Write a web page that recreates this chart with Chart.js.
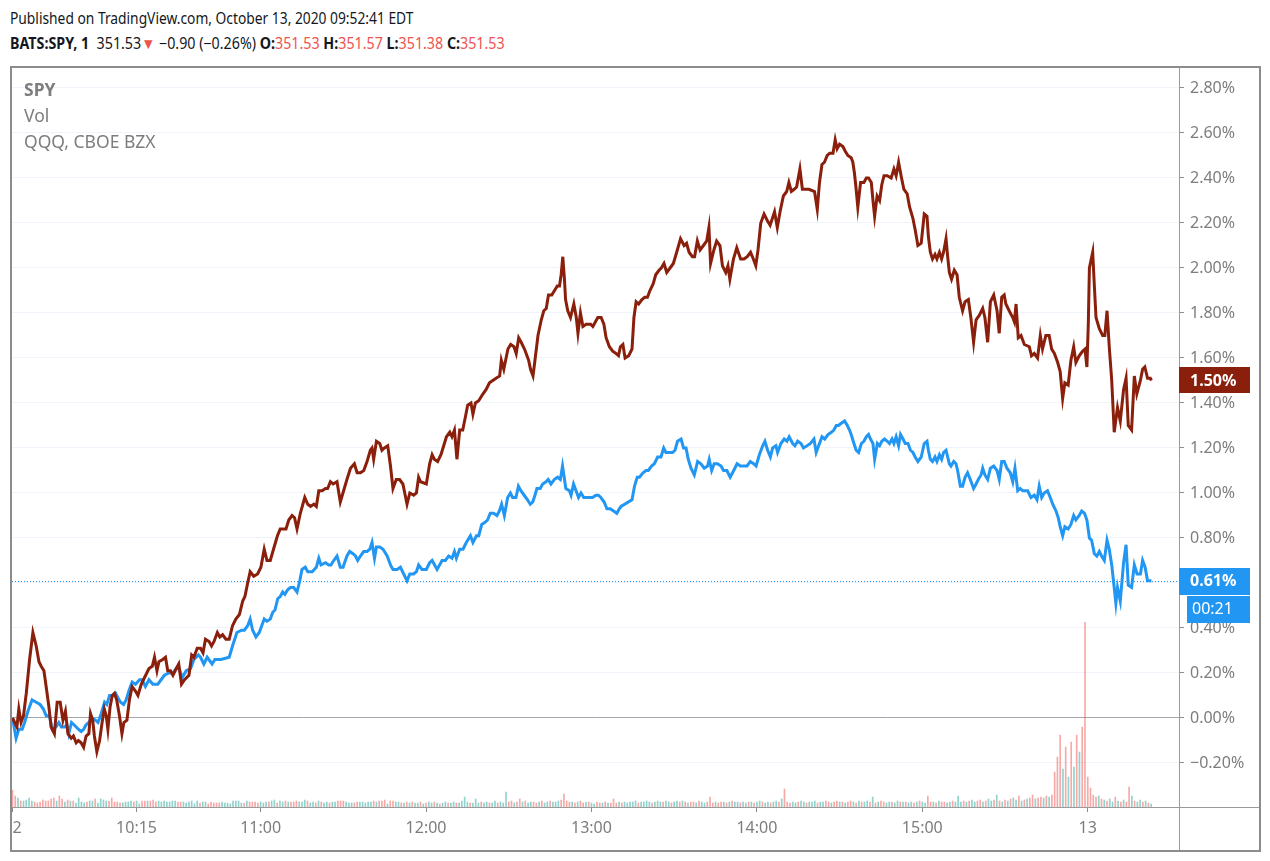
<!DOCTYPE html>
<html>
<head>
<meta charset="utf-8">
<script src="https://cdn.jsdelivr.net/npm/chart.js@4.4.1/dist/chart.umd.min.js"></script>
<style>
  html, body { margin: 0; padding: 0; background: #fff; }
  body { width: 1270px; height: 861px; position: relative; overflow: hidden; font-family: "Noto Sans", "Open Sans", sans-serif; }
  #chartCanvas { position: absolute; left: 0; top: 0; }
  .hdr { position: absolute; left: 10px; white-space: nowrap; color: #131722; font-size: 15.5px; transform-origin: 0 0; }
  #hdr1 { top: 7px; transform: scaleX(0.89); }
  #hdr2 { top: 32px; transform: scaleX(0.92); }
  .b { font-weight: bold; }
  .red { color: #ef5350; }
  .leg { position: absolute; left: 24px; color: #7d7d7d; font-size: 17.5px; white-space: nowrap; }
</style>
</head>
<body>
<div class="hdr" id="hdr1">Published on TradingView.com, October 13, 2020 09:52:41 EDT</div>
<div class="hdr" id="hdr2"><span class="b">BATS:SPY, 1</span>&nbsp; 351.53<span class="red">▼</span> −0.90 (−0.26%) <span class="b">O:</span><span class="red">351.53</span> <span class="b">H:</span><span class="red">351.57</span> <span class="b">L:</span><span class="red">351.38</span> <span class="b">C:</span><span class="red">351.53</span></div>
<canvas id="chartCanvas" width="1270" height="861"></canvas>
<div class="leg b" style="top:77px">SPY</div>
<div class="leg" style="top:103px">Vol</div>
<div class="leg" style="top:129px">QQQ, CBOE BZX</div>
<script>
  // === Data (x = minute bar since 9:30 Oct 12, y = % change) ===
  const spyPoints = [
    [0,0.00],[1.6,-0.04],[2.3,0.04],[3.1,-0.02],[4.0,0.01],[5.0,0.11],[6.2,0.26],[7.4,0.38],[8.6,0.32],[9.6,0.25],
    [10.4,0.23],[11.4,0.21],[12.2,0.14],[13.2,0.05],[14.0,-0.04],[15.2,-0.07],[16.2,0.07],[17.3,0.07],[18.3,-0.01],[19.2,0.03],
    [20.1,-0.07],[21.3,-0.09],[22.1,-0.08],[23.1,-0.11],[23.9,-0.10],[24.9,-0.11],[25.8,-0.13],[26.7,-0.08],[27.7,-0.07],[28.3,0.02],
    [29.1,-0.01],[29.7,-0.08],[30.6,-0.15],[31.6,-0.10],[32.5,-0.02],[33.3,0.04],[34.0,0.01],[34.6,-0.05],[35.4,0.05],[36.2,0.10],
    [37.0,0.11],[37.8,0.08],[38.8,0.01],[39.7,-0.07],[40.4,-0.02],[41.5,-0.01],[42.4,0.08],[43.4,0.14],[44.6,0.12],[45.5,0.10],
    [46.7,0.15],[47.9,0.18],[49.5,0.22],[50.7,0.23],[51.5,0.27],[52.4,0.21],[53.1,0.25],[54.5,0.26],[55.5,0.27],[56.3,0.21],
    [57.3,0.21],[58.2,0.19],[59.4,0.22],[60.3,0.24],[61.3,0.15],[62.4,0.17],[64.0,0.19],[65.0,0.28],[65.8,0.27],[67.0,0.31],
    [68.2,0.31],[69.1,0.29],[70.0,0.35],[71.3,0.34],[72.2,0.32],[73.1,0.34],[74.3,0.38],[75.2,0.36],[76.2,0.37],[77.4,0.35],
    [78.6,0.35],[79.8,0.41],[81.0,0.44],[82.3,0.46],[83.5,0.52],[84.3,0.54],[85.3,0.60],[86.2,0.65],[87.5,0.63],[88.9,0.64],
    [90.1,0.67],[91.3,0.75],[92.3,0.70],[93.5,0.70],[94.9,0.76],[96.1,0.81],[97.1,0.84],[98.3,0.84],[99.2,0.84],[100.2,0.88],
    [101.4,0.90],[102.3,0.89],[103.2,0.84],[104.4,0.91],[106.0,0.98],[107.1,0.95],[108.1,0.94],[109.3,0.95],[110.2,0.94],[111.1,1.01],
    [112.3,1.01],[113.5,1.02],[114.3,1.02],[115.3,1.05],[116.3,1.04],[117.7,1.05],[118.9,0.96],[120.1,1.01],[121.3,1.06],[122.6,1.11],
    [124.0,1.13],[125.0,1.09],[126.2,1.09],[127.4,1.10],[128.6,1.14],[129.8,1.19],[130.4,1.20],[131.0,1.15],[132.0,1.23],[133.2,1.22],
    [134.0,1.19],[134.9,1.20],[136.1,1.21],[137.1,1.12],[138.0,1.02],[139.2,1.06],[140.4,1.06],[141.6,1.04],[143.1,0.95],[144.1,1.00],
    [145.5,0.99],[146.5,1.00],[147.3,1.07],[148.0,1.05],[150.1,1.04],[151.3,1.13],[152.2,1.17],[153.0,1.15],[154.2,1.14],[155.4,1.17],
    [156.4,1.21],[157.4,1.25],[158.6,1.27],[159.4,1.25],[160.3,1.28],[161.2,1.15],[162.2,1.28],[163.3,1.28],[164.3,1.34],[165.1,1.39],
    [166.3,1.40],[167.0,1.35],[167.9,1.40],[169.1,1.41],[170.6,1.44],[171.8,1.46],[173.0,1.49],[174.2,1.50],[175.4,1.51],[176.7,1.52],
    [177.3,1.59],[178.2,1.55],[179.7,1.64],[180.7,1.66],[181.9,1.65],[182.7,1.62],[183.6,1.69],[184.5,1.67],[185.7,1.64],[187.2,1.59],
    [187.9,1.55],[188.8,1.52],[189.6,1.60],[190.6,1.70],[191.8,1.77],[192.7,1.81],[193.6,1.82],[194.4,1.88],[195.6,1.88],[196.6,1.90],
    [197.6,1.92],[198.4,1.92],[199.0,1.97],[199.6,2.05],[200.2,1.95],[200.6,1.86],[201.4,1.81],[202.4,1.78],[203.6,1.84],[204.5,1.78],
    [205.1,1.71],[206.0,1.80],[206.9,1.74],[208.1,1.75],[209.7,1.75],[210.5,1.74],[211.4,1.76],[212.3,1.78],[213.5,1.78],[214.5,1.75],
    [215.3,1.69],[216.5,1.65],[217.7,1.63],[218.9,1.62],[219.8,1.61],[220.5,1.65],[221.4,1.66],[222.2,1.60],[223.5,1.61],[224.7,1.64],
    [225.4,1.78],[226.2,1.85],[227.1,1.84],[228.3,1.86],[229.3,1.87],[230.3,1.87],[231.2,1.90],[232.4,1.93],[233.3,1.97],[234.5,1.99],
    [235.3,2.00],[236.3,2.02],[237.3,1.98],[238.5,2.00],[239.7,2.02],[240.9,2.07],[242.3,2.13],[243.6,2.10],[244.5,2.11],[245.4,2.07],
    [246.6,2.05],[247.4,2.05],[248.4,2.12],[249.4,2.08],[250.6,2.10],[251.8,2.12],[252.6,2.18],[253.2,2.02],[254.4,2.08],[255.4,2.12],
    [256.6,2.10],[257.5,2.01],[258.7,1.98],[259.5,2.01],[260.2,1.95],[261.5,2.04],[262.7,2.09],[264.1,2.04],[265.3,2.04],[266.5,2.05],
    [267.7,2.07],[268.7,2.04],[269.6,2.01],[270.4,2.08],[271.4,2.20],[272.6,2.24],[273.8,2.21],[274.8,2.19],[275.6,2.22],[276.4,2.25],
    [277.4,2.18],[278.4,2.25],[279.6,2.32],[280.8,2.34],[281.6,2.38],[282.5,2.34],[283.5,2.35],[284.4,2.36],[285.6,2.44],[286.5,2.35],
    [287.7,2.35],[288.9,2.35],[290.9,2.34],[291.9,2.26],[292.7,2.38],[293.6,2.46],[294.5,2.47],[295.5,2.50],[296.4,2.51],[297.6,2.51],
    [298.4,2.57],[299.1,2.53],[300.0,2.55],[301.2,2.54],[302.0,2.52],[303.0,2.50],[304.2,2.49],[304.8,2.47],[305.4,2.42],[306.0,2.35],
    [306.6,2.27],[307.6,2.38],[308.8,2.38],[309.7,2.40],[310.5,2.40],[311.5,2.38],[312.1,2.30],[312.7,2.23],[313.6,2.32],[314.5,2.30],
    [315.3,2.37],[316.1,2.41],[317.3,2.41],[318.7,2.40],[319.7,2.44],[320.5,2.41],[321.4,2.47],[322.3,2.41],[323.3,2.35],[324.5,2.33],
    [325.4,2.27],[326.6,2.22],[327.4,2.17],[328.4,2.10],[329.6,2.11],[330.7,2.24],[331.7,2.23],[332.2,2.14],[332.9,2.07],[333.7,2.04],
    [334.6,2.06],[335.3,2.04],[336.2,2.07],[337.0,2.04],[337.7,2.07],[338.6,2.13],[339.2,2.05],[339.8,1.98],[340.6,1.95],[341.6,1.99],
    [342.6,1.97],[343.4,1.87],[344.6,1.81],[345.5,1.85],[346.7,1.86],[347.6,1.78],[348.6,1.67],[349.5,1.77],[350.7,1.79],[351.9,1.82],
    [352.7,1.78],[353.7,1.67],[354.7,1.85],[355.9,1.88],[357.1,1.81],[357.9,1.71],[358.8,1.87],[359.7,1.88],[360.3,1.84],[361.5,1.81],
    [362.8,1.78],[363.4,1.76],[364.0,1.84],[364.8,1.69],[365.8,1.70],[367.0,1.66],[368.8,1.65],[369.6,1.61],[370.6,1.62],[371.8,1.60],
    [372.8,1.70],[373.6,1.64],[374.8,1.70],[376.0,1.70],[376.9,1.64],[377.9,1.62],[379.1,1.58],[380.0,1.54],[380.9,1.42],[381.7,1.49],
    [382.9,1.48],[383.9,1.59],[384.9,1.65],[385.7,1.58],[386.9,1.61],[388.1,1.63],[389.0,1.64],[389.7,1.56],[390.2,1.75],[390.6,2.00],
    [391.8,2.07],[392.4,1.92],[393.0,1.78],[394.2,1.73],[395.4,1.70],[396.2,1.70],[397.0,1.81],[397.8,1.65],[398.7,1.50],[399.6,1.27],
    [400.8,1.38],[401.8,1.32],[403.0,1.46],[403.9,1.51],[404.7,1.30],[405.9,1.28],[406.9,1.52],[407.8,1.44],[409.1,1.50],[409.9,1.55],
    [410.7,1.56],[411.7,1.51],[412.7,1.51],[413.1,1.50]
  ];

  const qqqPoints = [
    [0,0.00],[1.3,-0.09],[2.3,-0.05],[3.5,-0.05],[4.4,-0.02],[5.6,0.03],[7.1,0.08],[8.6,0.07],[10.0,0.06],[11.2,0.04],
    [12.2,0.01],[13.4,0.01],[14.4,-0.05],[15.8,-0.04],[16.8,-0.02],[17.7,-0.04],[18.9,-0.04],[19.7,-0.03],[20.4,-0.07],[21.4,-0.02],
    [22.3,-0.03],[23.1,-0.04],[23.9,-0.05],[24.9,-0.06],[25.8,-0.05],[26.7,-0.03],[27.7,-0.02],[28.9,0.00],[30.1,-0.01],[31.0,-0.02],
    [32.2,0.02],[33.4,0.07],[34.2,0.06],[35.2,0.10],[36.4,0.10],[37.4,0.11],[38.2,0.09],[39.2,0.07],[40.3,0.06],[41.2,0.08],
    [42.2,0.12],[43.4,0.16],[44.6,0.15],[46.1,0.17],[47.0,0.17],[48.2,0.14],[49.5,0.17],[50.9,0.15],[52.7,0.15],[53.9,0.17],
    [55.1,0.19],[56.7,0.20],[58.2,0.20],[59.4,0.22],[60.4,0.22],[61.6,0.18],[63.0,0.21],[64.6,0.22],[65.8,0.26],[67.4,0.28],
    [68.2,0.27],[69.4,0.24],[70.6,0.27],[72.4,0.24],[73.4,0.26],[75.6,0.26],[78.6,0.27],[79.8,0.32],[81.4,0.38],[83.1,0.39],
    [84.1,0.39],[85.3,0.41],[86.2,0.44],[87.1,0.39],[88.3,0.36],[89.5,0.38],[90.4,0.41],[91.3,0.44],[92.3,0.43],[93.5,0.44],
    [94.4,0.47],[95.2,0.48],[96.2,0.53],[97.1,0.54],[98.0,0.56],[98.8,0.55],[99.8,0.57],[100.8,0.58],[102.0,0.58],[103.2,0.56],
    [104.2,0.61],[105.0,0.66],[106.2,0.67],[107.1,0.65],[108.7,0.65],[110.2,0.67],[111.1,0.71],[111.9,0.68],[113.5,0.69],[114.7,0.68],
    [115.5,0.68],[116.5,0.70],[117.7,0.72],[118.9,0.67],[119.9,0.67],[121.3,0.72],[122.3,0.74],[123.5,0.73],[124.4,0.72],[125.2,0.70],
    [126.2,0.72],[127.4,0.74],[128.6,0.74],[129.6,0.75],[130.4,0.78],[131.3,0.71],[132.0,0.76],[133.2,0.76],[134.4,0.75],[135.9,0.72],
    [137.1,0.68],[138.0,0.66],[139.5,0.66],[140.7,0.67],[141.9,0.64],[143.1,0.61],[144.1,0.64],[145.5,0.64],[146.5,0.65],[147.3,0.68],
    [148.5,0.66],[150.1,0.66],[151.3,0.69],[152.2,0.70],[154.0,0.66],[155.8,0.70],[157.0,0.70],[158.2,0.72],[159.4,0.71],[160.3,0.74],
    [161.0,0.71],[162.2,0.75],[163.4,0.75],[164.6,0.78],[166.1,0.81],[167.0,0.78],[168.3,0.81],[169.1,0.81],[170.2,0.86],[171.4,0.87],
    [172.3,0.88],[173.3,0.91],[174.5,0.91],[175.7,0.90],[176.6,0.92],[177.4,0.95],[178.4,0.90],[179.6,0.98],[180.6,1.00],[181.4,0.98],
    [182.6,0.98],[183.5,1.03],[184.4,1.01],[185.6,0.99],[186.8,0.97],[187.8,0.95],[188.7,0.96],[189.5,0.99],[190.2,1.02],[191.4,1.02],
    [192.3,1.04],[193.5,1.05],[194.3,1.06],[195.3,1.04],[196.5,1.06],[197.7,1.07],[198.7,1.06],[199.5,1.12],[200.1,1.07],[200.7,1.02],
    [202.0,1.01],[202.6,0.99],[203.5,1.04],[204.4,1.01],[205.3,0.98],[206.2,1.00],[207.2,0.98],[208.6,0.98],[210.4,0.98],[211.6,0.99],
    [212.5,0.99],[213.4,0.98],[214.6,0.96],[215.6,0.93],[216.8,0.93],[218.0,0.92],[219.2,0.91],[220.1,0.93],[220.7,0.94],[224.7,0.97],
    [225.6,1.03],[226.6,1.07],[227.4,1.07],[228.7,1.09],[229.8,1.10],[230.6,1.10],[231.8,1.12],[232.8,1.13],[234.0,1.16],[235.2,1.16],
    [236.2,1.20],[237.0,1.18],[238.2,1.18],[239.4,1.18],[240.3,1.19],[241.2,1.23],[242.5,1.24],[243.4,1.20],[244.3,1.20],[245.1,1.15],
    [246.1,1.11],[247.3,1.08],[248.5,1.14],[249.7,1.13],[250.9,1.11],[252.1,1.12],[252.7,1.15],[253.6,1.10],[254.5,1.13],[255.7,1.13],
    [257.0,1.12],[257.9,1.10],[259.1,1.10],[260.3,1.07],[261.6,1.10],[262.8,1.13],[264.0,1.12],[265.2,1.12],[266.4,1.12],[267.6,1.14],
    [268.8,1.13],[269.7,1.12],[270.9,1.17],[272.1,1.21],[272.9,1.23],[273.9,1.19],[274.9,1.16],[275.7,1.20],[276.9,1.21],[277.5,1.18],
    [278.7,1.22],[279.9,1.24],[280.9,1.23],[281.7,1.25],[283.0,1.22],[283.8,1.21],[284.8,1.23],[286.0,1.22],[286.9,1.20],[288.2,1.21],
    [289.4,1.22],[290.7,1.24],[291.5,1.18],[292.4,1.21],[293.6,1.25],[294.6,1.24],[295.8,1.26],[297.0,1.27],[297.9,1.28],[298.8,1.30],
    [299.6,1.30],[300.6,1.31],[301.8,1.32],[302.8,1.30],[303.6,1.28],[304.2,1.26],[305.2,1.22],[306.0,1.19],[306.9,1.18],[307.9,1.22],
    [308.8,1.23],[309.7,1.25],[310.5,1.26],[311.2,1.24],[312.1,1.22],[312.7,1.15],[313.7,1.22],[314.5,1.21],[315.3,1.23],[316.3,1.24],
    [317.3,1.23],[318.1,1.22],[319.0,1.24],[319.7,1.22],[320.5,1.25],[321.4,1.21],[322.1,1.26],[323.0,1.24],[323.8,1.22],[324.8,1.22],
    [325.7,1.19],[326.6,1.18],[327.4,1.16],[328.4,1.14],[329.6,1.16],[330.7,1.22],[331.7,1.23],[332.2,1.19],[332.9,1.15],[333.7,1.14],
    [334.6,1.16],[335.3,1.14],[336.2,1.17],[337.0,1.15],[337.7,1.18],[338.6,1.19],[339.2,1.16],[339.8,1.13],[340.4,1.12],[341.4,1.14],
    [342.2,1.13],[342.8,1.10],[343.8,1.03],[344.6,1.03],[345.5,1.07],[346.4,1.09],[347.4,1.06],[348.6,1.02],[349.5,1.04],[350.3,1.06],
    [351.3,1.08],[351.9,1.11],[352.7,1.08],[353.7,1.06],[354.7,1.11],[355.9,1.12],[357.1,1.10],[357.9,1.06],[358.8,1.14],[359.7,1.14],
    [360.7,1.11],[361.9,1.09],[362.8,1.05],[363.6,1.11],[364.6,1.01],[365.5,1.02],[366.4,1.01],[368.2,1.01],[369.4,0.98],[370.6,0.99],
    [371.6,0.97],[372.4,1.03],[373.3,0.98],[374.2,1.00],[375.4,1.01],[376.4,0.98],[377.3,0.95],[378.5,0.92],[379.3,0.89],[380.0,0.85],
    [380.9,0.81],[381.7,0.85],[382.9,0.84],[383.9,0.86],[384.9,0.90],[385.7,0.88],[386.9,0.90],[387.8,0.92],[388.8,0.91],[389.7,0.88],
    [390.6,0.80],[391.4,0.79],[392.4,0.73],[393.3,0.72],[394.2,0.74],[395.0,0.72],[396.0,0.70],[397.0,0.79],[397.8,0.75],[398.7,0.68],
    [399.6,0.58],[400.2,0.51],[400.8,0.58],[401.8,0.52],[403.0,0.69],[403.9,0.77],[404.7,0.59],[405.9,0.58],[406.9,0.68],[407.9,0.64],
    [409.1,0.64],[409.9,0.70],[410.8,0.67],[411.7,0.61],[413.1,0.61]
  ];

  // SPY 1-minute volume (thousand shares), one per bar from bar 0
  const volK = [
    170,110,90,60,60,70,90,60,50,40,50,70,60,60,80,90,60,110,80,50,
    70,60,60,40,90,50,40,50,60,60,80,40,80,70,60,60,90,50,50,40,
    40,50,50,60,50,60,30,60,60,60,60,70,50,60,50,60,50,50,60,60,
    50,50,50,40,50,60,30,60,40,50,50,30,50,40,40,40,50,40,40,30,
    60,60,60,40,40,60,50,50,50,40,50,40,50,50,60,70,40,60,50,60,
    50,50,50,60,50,50,70,60,40,50,40,60,50,40,50,40,50,50,60,60,
    60,50,40,40,40,50,50,50,40,50,50,60,50,60,60,70,30,60,60,50,50,40,40,50,
    40,50,40,40,50,30,40,50,40,50,40,30,40,50,40,40,50,40,40,60,
    100,50,40,40,80,40,50,40,50,40,40,60,40,50,40,150,50,60,40,50,
    80,50,60,40,50,50,40,50,60,40,50,60,50,50,60,70,130,60,50,50,
    40,50,60,40,50,50,40,30,50,40,40,50,40,40,80,40,50,40,50,40,
    50,50,60,40,50,50,60,50,40,50,60,50,50,60,50,40,50,60,50,60,
    50,40,50,50,40,60,50,40,50,100,40,50,40,50,50,40,50,60,50,50,
    40,50,40,50,50,40,50,60,50,40,50,40,50,60,50,80,180,50,40,50,
    40,50,60,50,40,50,50,60,40,50,50,60,50,40,50,60,50,50,40,50,
    60,50,40,60,50,50,60,50,100,40,50,60,50,40,50,50,40,60,50,50,
    50,40,50,40,50,60,50,40,110,50,50,40,60,50,50,40,50,60,50,110,
    50,60,50,60,70,50,60,70,50,60,80,60,70,120,60,50,70,60,80,90,
    70,110,60,70,80,90,120,80,90,100,90,110,100,120,350,500,720,380,600,300,
    650,400,720,550,800,1850,300,190,120,100,
    110,80,70,60,80,50,100,60,50,70,50,200,110,60,50,70,50,60,40,30
  ];
  const volDir = (
    "rrgrggggrrrrrrrrgrrg" + "rgrggggrggrggggrrrrr" +
    "ggggrggrrgrrrggggggg" + "rrggggggrggrrrrrgggg" +
    "ggggrgrrrrgggrggrggr" + "grrrgggrggrgrggrggrr" +
    "rgggrrgggggrgrrrgrrggrgr" +
    "grggrgrggrgrggrggrgg" + "ggrgggrggrggrgggrrgr" +
    "rgrggrrgrggrgggrrrrg" + "rgrrgrggrrgrgrrrgrgg" +
    "gggrggggrgggrggrggrg" + "rgrrgrggrrrgrrgrgrgg" +
    "rggrgrggrggrggrgrrrg" + "grggrgggrggrrgrrgrgr" +
    "rgrgrggrgrgrrggrggrg" + "rggrgrggrrgrgrrggrgg" +
    "grgrggrrgrggrgrgrgrg" + "grgrgrrgrrgrgrrrrgrg" +
    "rgrgrrrrrr" + "grgrggrgrgrrgrggrgrg"
  ).split("");

  const yTicks = [-0.2,0,0.2,0.4,0.6,0.8,1.0,1.2,1.4,1.6,1.8,2.0,2.2,2.4,2.6,2.8];
  const xTickIdx = [0,45,90,150,210,270,330,390];
  const xTickText = ["12","10:15","11:00","12:00","13:00","14:00","15:00","13"];
  const spyLast = 1.50, qqqLast = 0.61, countdown = "00:21";

  const SPY_COLOR = "#8a1f0c";
  const QQQ_COLOR = "#2196f3";
  const AXIS_TEXT = "#7d7d7d";

  const volData = volK.map((v, i) => ({ x: i, y: v }));
  const volColors = volK.map((v, i) => volDir[i] === "g" ? "rgba(38,166,154,0.5)" : "rgba(239,83,80,0.5)");

  function fmtPct(v) {
    const s = Math.abs(v).toFixed(2) + "%";
    return v < -0.001 ? "\u2212" + s : s;
  }

  // === Overlay: dotted last-price line, badges, frame ===
  const overlay = {
    id: "overlay",
    beforeDatasetsDraw(chart) {
      const c = chart.ctx, a = chart.chartArea, y = Math.round(chart.scales.y.getPixelForValue(qqqLast)) + 0.5;
      c.save();
      c.strokeStyle = QQQ_COLOR; c.lineWidth = 1; c.setLineDash([1, 2]);
      c.beginPath(); c.moveTo(a.left, y); c.lineTo(a.right, y); c.stroke();
      c.restore();
    },
    afterDraw(chart) {
      const c = chart.ctx, a = chart.chartArea, ys = chart.scales.y;
      c.save();
      // hide the part of the first day label that falls outside the frame
      c.fillStyle = "#fff"; c.fillRect(0, a.bottom + 1, 10, 50);
      // separators and frame
      c.strokeStyle = "#9a9a9a"; c.lineWidth = 1;
      c.beginPath(); c.moveTo(a.right + 0.5, 66); c.lineTo(a.right + 0.5, 851); c.stroke();
      c.beginPath(); c.moveTo(10, a.bottom + 0.5); c.lineTo(1260, a.bottom + 0.5); c.stroke();
      c.strokeStyle = "#8c8c8c"; c.lineWidth = 2;
      c.strokeRect(11, 67, 1249, 784);
      // badges
      c.font = "bold 16px 'Noto Sans', sans-serif"; c.textBaseline = "middle";
      const ySpy = ys.getPixelForValue(spyLast);
      c.fillStyle = SPY_COLOR; c.fillRect(a.right, Math.round(ySpy) - 13, 71, 26);
      c.fillStyle = "#fff"; c.fillText(fmtPct(spyLast), a.right + 11, ySpy + 1);
      const yQ = ys.getPixelForValue(qqqLast);
      c.fillStyle = QQQ_COLOR; c.fillRect(a.right, Math.round(yQ) - 13, 71, 27);
      c.fillStyle = "#fff"; c.fillText(fmtPct(qqqLast), a.right + 11, yQ + 1);
      c.font = "16px 'Noto Sans', sans-serif";
      c.fillStyle = QQQ_COLOR; c.fillRect(a.right + 8, Math.round(yQ) + 15, 63, 27);
      c.fillStyle = "#fff"; c.fillText(countdown, a.right + 13, yQ + 29);
      c.restore();
    }
  };

  const ctx = document.getElementById("chartCanvas").getContext("2d");
  const chart = new Chart(ctx, {
    type: "line",
    data: {
      datasets: [
        {
          label: "SPY",
          data: spyPoints.map(p => ({ x: p[0], y: p[1] })),
          borderColor: SPY_COLOR,
          borderWidth: 3,
          pointRadius: 0,
          tension: 0,
          order: 0
        },
        {
          label: "QQQ",
          data: qqqPoints.map(p => ({ x: p[0], y: p[1] })),
          borderColor: QQQ_COLOR,
          borderWidth: 3,
          pointRadius: 0,
          tension: 0,
          order: 1
        },
        {
          type: "bar",
          label: "Vol",
          data: volData,
          yAxisID: "vol",
          backgroundColor: volColors,
          barThickness: 1,
          order: 2
        }
      ]
    },
    options: {
      responsive: false,
      animation: false,
      events: [],
      layout: { padding: { left: 12, top: 67, right: 10, bottom: 10 } },
      plugins: { legend: { display: false }, tooltip: { enabled: false } },
      scales: {
        x: {
          type: "linear",
          offset: false,
          min: -0.18,
          max: 423.1,
          afterBuildTicks: s => { s.ticks = xTickIdx.map(v => ({ value: v })); },
          afterFit: s => { s.height = 44; s.paddingLeft = 0; s.paddingRight = 0; },
          ticks: {
            autoSkip: false, maxRotation: 0, padding: 7, color: AXIS_TEXT,
            font: { family: "'Noto Sans', sans-serif", size: 16 },
            callback: v => xTickText[xTickIdx.indexOf(v)]
          },
          grid: { drawOnChartArea: false, offset: false, tickLength: 5, tickColor: "#8c8c8c" },
          border: { display: false }
        },
        y: {
          position: "right",
          min: -0.3956,
          max: 2.8933,
          afterBuildTicks: s => { s.ticks = yTicks.map(v => ({ value: v })); },
          afterFit: s => { s.width = 81; },
          ticks: {
            padding: 6, color: AXIS_TEXT,
            font: { family: "'Noto Sans', sans-serif", size: 16 },
            callback: v => fmtPct(v)
          },
          grid: {
            color: c => (c.tick && Math.abs(c.tick.value) < 1e-9) ? "#a5a7ae" : "#f0f3fa",
            tickLength: 5, tickColor: "#8c8c8c"
          },
          border: { display: false }
        },
        vol: { display: false, min: 0, max: 7410 }
      }
    },
    plugins: [overlay]
  });
</script>
</body>
</html>
